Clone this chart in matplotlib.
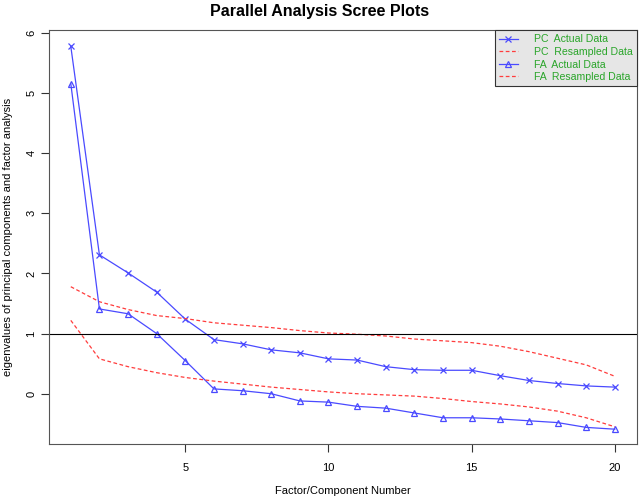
import numpy as np
import matplotlib.pyplot as plt

plt.rcParams['font.family'] = ['Liberation Sans', 'DejaVu Sans']

factors = np.arange(1, 21)
pc_actual = [5.78, 2.31, 2.01, 1.69, 1.24, 0.90, 0.83, 0.73, 0.68, 0.58,
             0.56, 0.45, 0.40, 0.39, 0.39, 0.30, 0.22, 0.17, 0.13, 0.11]
pc_resampled = [1.78, 1.53, 1.40, 1.30, 1.25, 1.18, 1.14, 1.10, 1.05, 1.01,
                0.99, 0.96, 0.91, 0.88, 0.85, 0.79, 0.70, 0.59, 0.48, 0.29]
fa_actual = [5.16, 1.41, 1.33, 1.00, 0.55, 0.08, 0.05, 0.00, -0.12, -0.14,
             -0.21, -0.24, -0.32, -0.40, -0.40, -0.42, -0.45, -0.48, -0.56, -0.59]
fa_resampled = [1.22, 0.58, 0.45, 0.35, 0.27, 0.21, 0.16, 0.11, 0.07, 0.03,
                0.00, -0.02, -0.04, -0.08, -0.13, -0.17, -0.22, -0.29, -0.40, -0.55]

blue = '#4a4aff'
red = '#ff3c3c'
green = '#2aa52a'

fig = plt.figure(figsize=(6.4, 4.96), dpi=100)
ax = fig.add_axes([0.0766, 0.105, 0.918, 0.8345])

ax.plot(factors, pc_actual, color=blue, lw=0.9, marker='x', ms=5, mew=0.9,
        label='PC  Actual Data')
ax.plot(factors, pc_resampled, color=red, lw=0.9, ls=(0, (3, 2)),
        label='PC  Resampled Data')
ax.plot(factors, fa_actual, color=blue, lw=0.9, marker='^', ms=5, mew=0.9,
        mfc='none', label='FA  Actual Data')
ax.plot(factors, fa_resampled, color=red, lw=0.9, ls=(0, (3, 2)),
        label='FA  Resampled Data')
ax.axhline(1, color='black', lw=0.8)

ax.set_xlim(0.24, 20.76)
ax.set_ylim(-0.835, 6.05)
ax.set_xticks([5, 10, 15, 20])
ax.set_yticks(range(0, 7))
ax.tick_params(direction='out', length=6, width=0.8, labelsize=8, color='#333333')
ax.tick_params(axis='x', pad=8)
ax.tick_params(axis='y', pad=3)
for lab in ax.get_yticklabels():
    lab.set_rotation(90)
    lab.set_va('center')
for s in ax.spines.values():
    s.set_color('#555555')
    s.set_linewidth(0.8)

fig.suptitle('Parallel Analysis Scree Plots', x=0.5, y=0.992, va='top',
             fontsize=11.5, fontweight='bold')
ax.set_xlabel('Factor/Component Number', fontsize=8, labelpad=9)
ax.set_ylabel('eigenvalues of principal components and factor analysis', fontsize=8,
              labelpad=10)

leg = ax.legend(loc='upper right', borderaxespad=0, fancybox=False, framealpha=1,
                facecolor='#e6e6e6', edgecolor='#333333', fontsize=7.6,
                labelcolor=green, handlelength=1.8, labelspacing=0.25,
                borderpad=0.4, handletextpad=1.5)
leg.get_frame().set_linewidth(0.8)

fig.savefig('out.png', dpi=100)
